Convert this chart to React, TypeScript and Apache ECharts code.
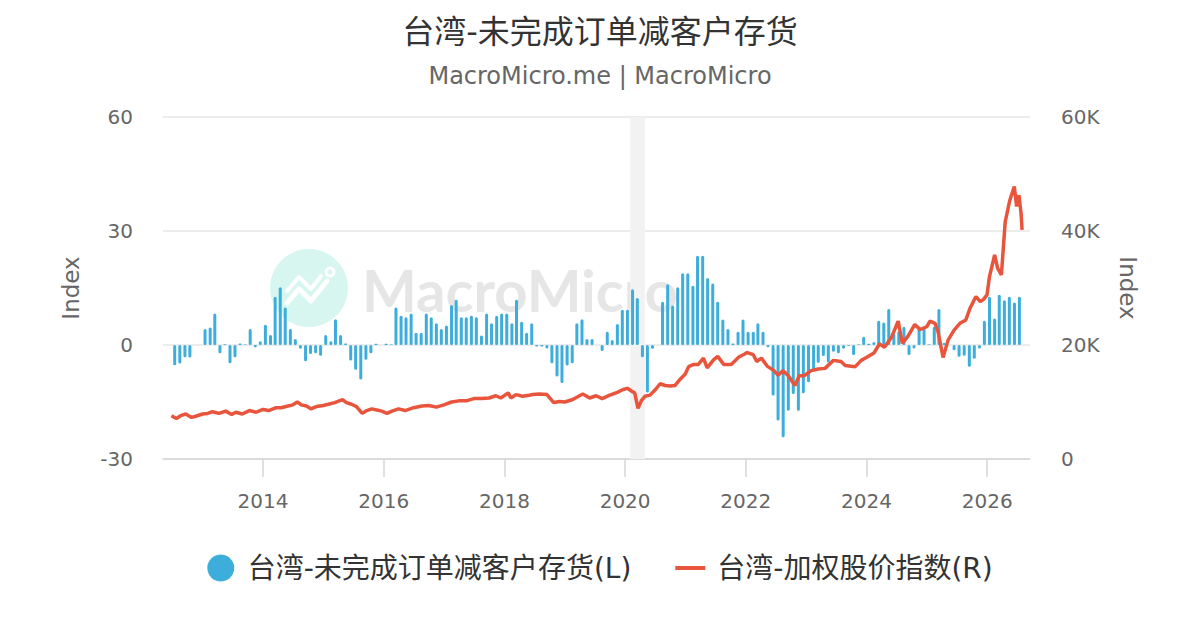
import React, { useEffect, useRef } from "react";
import * as echarts from "echarts";

const FONT = '"DejaVu Sans", "Noto Sans CJK SC", sans-serif';

const titleText = "台湾-未完成订单减客户存货";
const subtitleText = "MacroMicro.me | MacroMicro";
const barName = "台湾-未完成订单减客户存货(L)";
const lineName = "台湾-加权股价指数(R)";

// monthly bars, Jul 2012 .. Jul 2026
const barStart = { year: 2012, month: 7 };
const barValues = [
  -5.3, -4.9, -3.2, -3.3, 0, 0,
  4.2, 4.6, 8.3, -2.2, 0.2, -4.8, -3.2, 0.4, 0.1, 4.2, -0.6, 1.0,
  5.3, 2.6, 12.7, 15.2, 9.9, 4.2, 1.6, -1.0, -4.3, -2.4, -2.2, -2.8,
  2.6, 1.0, 6.8, 2.6, 0.4, -4.1, -6.5, -9.1, -3.9, -2.2, 0.3, 0,
  0.3, 0.1, 9.9, 7.7, 7.3, 8.3, 3.2, 3.2, 8.3, 7.3, 5.7, 4.2,
  5.1, 10.5, 11.9, 7.3, 7.3, 7.7, 7.3, 2.5, 8.3, 5.7, 7.7, 8.3,
  8.3, 5.7, 11.9, 6.1, 3.2, 5.7, -0.4, -0.4, -0.9, -4.8, -8.3, -10.0,
  -5.4, -4.8, 5.7, 6.8, 1.6, 1.6, 0, -1.6, 3.5, 1.3, 5.5, 9.3,
  9.3, 14.7, 12.4, -3.2, -12.5, -1.0, 0, 11.4, 16.0, 10.4, 15.2, 18.9,
  18.9, 15.6, 23.5, 23.5, 17.6, 16.2, 11.4, 6.7, 4.2, 0.4, 3.5, 6.7,
  3.5, 3.5, 5.7, 3.5, -0.6, -13.3, -19.9, -24.3, -17.3, -12.9, -17.3, -12.7,
  -9.8, -7.0, -4.7, -2.9, -4.6, -1.8, -2.2, -1.0, -0.2, -2.6, 0.1, 2.2,
  0.3, 0.8, 6.4, 5.9, 9.5, 3.0, 3.5, 4.8, -2.6, -0.9, 4.8, 4.8,
  0.1, 4.8, 9.5, 0.5, 0, -1.4, -3.1, -2.8, -5.7, -3.6, -0.9, 6.4,
  12.7, 7.0, 13.2, 11.8, 12.7, 11.2, 12.7,
];

// TAIEX, thousands of points
const lineDates = [
  "2012-06-25", "2012-07-25", "2012-08-20", "2012-09-20", "2012-10-25", "2012-11-20", "2012-12-31",
  "2013-01-31", "2013-03-01", "2013-04-10", "2013-05-20", "2013-06-25", "2013-07-20", "2013-08-28",
  "2013-10-10", "2013-11-20", "2013-12-31",
  "2014-02-05", "2014-03-20", "2014-04-20", "2014-05-20", "2014-06-30", "2014-07-28", "2014-08-20",
  "2014-09-20", "2014-10-17", "2014-11-20", "2014-12-31",
  "2015-01-31", "2015-03-10", "2015-04-27", "2015-05-20", "2015-06-20", "2015-07-20", "2015-08-24",
  "2015-09-20", "2015-10-20", "2015-11-20", "2015-12-20",
  "2016-01-20", "2016-02-20", "2016-03-31", "2016-05-10", "2016-06-30", "2016-08-20", "2016-09-30",
  "2016-11-15", "2016-12-31",
  "2017-02-15", "2017-03-31", "2017-05-15", "2017-06-30", "2017-08-15", "2017-09-30", "2017-11-10",
  "2017-12-10",
  "2018-01-24", "2018-02-09", "2018-03-12", "2018-04-20", "2018-05-31", "2018-06-20", "2018-07-31",
  "2018-09-15", "2018-10-26", "2018-11-30", "2018-12-31",
  "2019-02-15", "2019-04-20", "2019-05-31", "2019-07-10", "2019-08-15", "2019-09-30", "2019-11-15",
  "2019-12-20",
  "2020-01-15", "2020-02-10", "2020-02-28", "2020-03-19", "2020-04-10", "2020-04-30", "2020-05-31",
  "2020-06-30", "2020-07-31", "2020-08-31", "2020-09-30", "2020-10-30", "2020-11-30", "2020-12-31",
  "2021-01-20", "2021-02-20", "2021-03-20", "2021-04-20", "2021-05-12", "2021-06-20", "2021-07-15",
  "2021-08-20", "2021-10-05", "2021-11-20", "2021-12-31",
  "2022-01-05", "2022-02-15", "2022-03-08", "2022-04-05", "2022-05-10", "2022-06-20", "2022-07-15",
  "2022-08-15", "2022-09-15", "2022-10-25", "2022-11-20", "2022-12-20",
  "2023-01-31", "2023-03-15", "2023-04-25", "2023-06-15", "2023-07-31", "2023-08-25", "2023-10-25",
  "2023-11-30", "2023-12-31",
  "2024-02-15", "2024-03-20", "2024-04-19", "2024-05-31", "2024-07-11", "2024-08-05", "2024-09-10",
  "2024-10-20", "2024-11-20", "2024-12-31",
  "2025-01-20", "2025-02-20", "2025-03-10", "2025-04-09", "2025-05-10", "2025-06-15", "2025-07-20",
  "2025-08-25", "2025-09-20", "2025-10-25", "2025-11-20", "2025-12-10", "2025-12-31",
  "2026-01-15", "2026-02-15", "2026-03-05", "2026-03-28", "2026-04-20", "2026-05-18", "2026-06-14",
  "2026-06-28", "2026-07-12", "2026-07-25", "2026-07-31",
];
const lineValues = [
  7.6, 7.1, 7.6, 7.9, 7.3, 7.5, 7.9,
  8.0, 8.3, 8.0, 8.4, 7.8, 8.2, 7.9,
  8.5, 8.2, 8.7,
  8.5, 9.0, 9.0, 9.2, 9.5, 10.0, 9.5,
  9.3, 8.8, 9.2, 9.4,
  9.6, 9.9, 10.4, 9.9, 9.6, 9.2, 8.0,
  8.5, 8.8, 8.6, 8.4,
  8.0, 8.4, 8.8, 8.5, 9.0, 9.3, 9.4,
  9.1, 9.5,
  10.0, 10.2, 10.2, 10.6, 10.6, 10.7, 11.1,
  10.7,
  11.6, 10.7, 11.3, 11.0, 11.2, 11.3, 11.4,
  11.3, 9.9, 10.1, 10.0,
  10.4, 11.4, 10.7, 11.1, 10.6, 11.2, 11.7,
  12.2,
  12.4, 11.9, 11.6, 8.9, 10.3, 11.0, 11.2,
  12.1, 13.2, 12.9, 12.8, 12.9, 14.0, 14.9,
  16.2, 16.6, 16.6, 17.7, 16.0, 17.4, 18.0,
  16.6, 16.6, 17.9, 18.5,
  18.7, 18.3, 17.1, 17.7, 16.3, 15.5, 14.7,
  15.5, 14.6, 12.9, 14.6, 14.6,
  15.5, 15.8, 15.9, 17.3, 17.1, 16.4, 16.2,
  17.3, 17.8,
  18.6, 20.2, 19.6, 21.3, 24.2, 20.3, 21.6,
  23.6, 22.7, 23.2,
  24.2, 23.8, 22.3, 17.8, 20.9, 22.6, 23.8,
  24.4, 26.5, 28.5, 27.6, 28.0, 28.8,
  32.0, 35.8, 33.5, 32.3, 41.6, 45.4, 47.8,
  44.3, 46.3, 43.1, 40.2,
];

const yearTicks = [2014, 2016, 2018, 2020, 2022, 2024, 2026];
const axisStart = "2012-05-05";
const axisEnd = "2026-09-17";
const recession = ["2020-02-01", "2020-04-30"];

// convert a YYYY-MM-DD date into a fractional year for the value x axis
function toYear(d: string): number {
  const [y, m, day] = d.split("-").map(Number);
  const start = Date.UTC(y, 0, 1);
  const end = Date.UTC(y + 1, 0, 1);
  const t = Date.UTC(y, m - 1, day);
  return y + (t - start) / (end - start);
}

function pad(n: number) {
  return n < 10 ? "0" + n : "" + n;
}

export default function App() {
  const ref = useRef<HTMLDivElement>(null);

  useEffect(() => {
    document.body.style.margin = "0";
    if (!ref.current) return;
    const chart = echarts.init(ref.current, undefined, { renderer: "svg" });

    const barMonths: string[] = [];
    for (let i = 0; i < barValues.length; i++) {
      const m0 = barStart.month - 1 + i;
      const y = barStart.year + Math.floor(m0 / 12);
      const m = (m0 % 12) + 1;
      barMonths.push(`${y}-${pad(m)}-15`);
    }
    const barData = barMonths.map((d, i) => [toYear(d), barValues[i]]);
    const lineData = lineDates.map((d, i) => [toYear(d), lineValues[i]]);

    chart.setOption({
      animation: false,
      backgroundColor: "#ffffff",
      textStyle: { fontFamily: FONT },
      title: [
        {
          text: titleText,
          left: "center",
          top: 16,
          padding: 0,
          textStyle: { fontSize: 32, fontWeight: "normal", color: "#333333", fontFamily: FONT },
        },
        {
          text: subtitleText,
          left: "center",
          top: 64,
          padding: 0,
          textStyle: { fontSize: 24, fontWeight: "normal", color: "#666666", fontFamily: FONT },
        },
      ],
      legend: {
        left: "center",
        top: 554,
        padding: 0,
        itemWidth: 30,
        itemHeight: 27,
        itemGap: 44,
        textStyle: { fontSize: 28, color: "#333333", fontFamily: FONT, padding: [0, 0, 0, 7] },
        data: [
          { name: barName, icon: "circle" },
          { name: lineName, icon: "path://M0,0L30,0L30,4L0,4Z" },
        ],
      },
      grid: { left: 163, right: 170, top: 117, bottom: 171 },
      graphic: [
        {
          type: "circle",
          silent: true,
          z: 0,
          shape: { cx: 309, cy: 288, r: 39 },
          style: { fill: "#d6f6ef" },
        },
        {
          type: "polyline",
          silent: true,
          z: 0,
          shape: { points: [[287, 303], [299, 289], [311, 301], [327, 281]] },
          style: { stroke: "#ffffff", lineWidth: 5, fill: null, lineJoin: "round", lineCap: "round" },
        },
        {
          type: "polyline",
          silent: true,
          z: 0,
          shape: { points: [[287, 291], [299, 277], [311, 289], [321, 276]] },
          style: { stroke: "#ffffff", lineWidth: 4, fill: null, lineJoin: "round", lineCap: "round" },
        },
        {
          type: "circle",
          silent: true,
          z: 0,
          shape: { cx: 330, cy: 272, r: 4 },
          style: { fill: "none", stroke: "#ffffff", lineWidth: 3 },
        },
        {
          type: "text",
          silent: true,
          z: 0,
          x: 362,
          y: 289,
          style: {
            text: "MacroMicro",
            fontSize: 58,
            fontWeight: "bold",
            fontFamily: "Lato",
            fill: "#e6e6e6",
            align: "left",
            verticalAlign: "middle",
          },
        },
      ],
      xAxis: {
        type: "value",
        min: toYear(axisStart),
        max: toYear(axisEnd),
        axisLine: { show: true, onZero: false, lineStyle: { color: "#d6d6d6", width: 1.5 } },
        axisTick: {
          show: true,
          length: 18,
          customValues: yearTicks,
          lineStyle: { color: "#d6d6d6", width: 1.5 },
        },
        axisLabel: {
          customValues: yearTicks,
          formatter: (v: number) => String(v),
          color: "#666666",
          fontSize: 20,
          margin: 32,
          fontFamily: FONT,
        },
        splitLine: { show: false },
      },
      yAxis: [
        {
          type: "value",
          min: -30,
          max: 60,
          interval: 30,
          name: "Index",
          nameLocation: "middle",
          nameGap: 81,
          nameTextStyle: { color: "#666666", fontSize: 23, fontFamily: FONT },
          axisLine: { show: false },
          axisTick: { show: false },
          axisLabel: { color: "#666666", fontSize: 20, margin: 30, fontFamily: FONT },
          splitLine: { lineStyle: { color: "#e6e6e6", width: 1.5 } },
        },
        {
          type: "value",
          min: 0,
          max: 60,
          interval: 20,
          position: "right",
          name: "Index",
          nameLocation: "middle",
          nameRotate: -90,
          nameGap: 86,
          nameTextStyle: { color: "#666666", fontSize: 23, fontFamily: FONT },
          axisLine: { show: false },
          axisTick: { show: false },
          axisLabel: {
            color: "#666666",
            fontSize: 20,
            margin: 31,
            fontFamily: FONT,
            formatter: (v: number) => (v === 0 ? "0" : v + "K"),
          },
          splitLine: { show: false },
        },
      ],
      series: [
        {
          name: barName,
          type: "bar",
          data: barData,
          barWidth: 3,
          itemStyle: { color: "#3DAEDB", borderRadius: 1.5 },
          z: 2,
          markArea: {
            silent: true,
            itemStyle: { color: "#f2f2f2" },
            data: [[{ xAxis: toYear(recession[0]) }, { xAxis: toYear(recession[1]) }]],
          },
        },
        {
          name: lineName,
          type: "line",
          yAxisIndex: 1,
          data: lineData,
          symbol: "none",
          showSymbol: false,
          lineStyle: { color: "#E8553C", width: 3.5 },
          itemStyle: { color: "#E8553C" },
          z: 3,
        },
      ],
    });

    return () => {
      chart.dispose();
    };
  }, []);

  return <div ref={ref} style={{ width: 1200, height: 630 }} />;
}
